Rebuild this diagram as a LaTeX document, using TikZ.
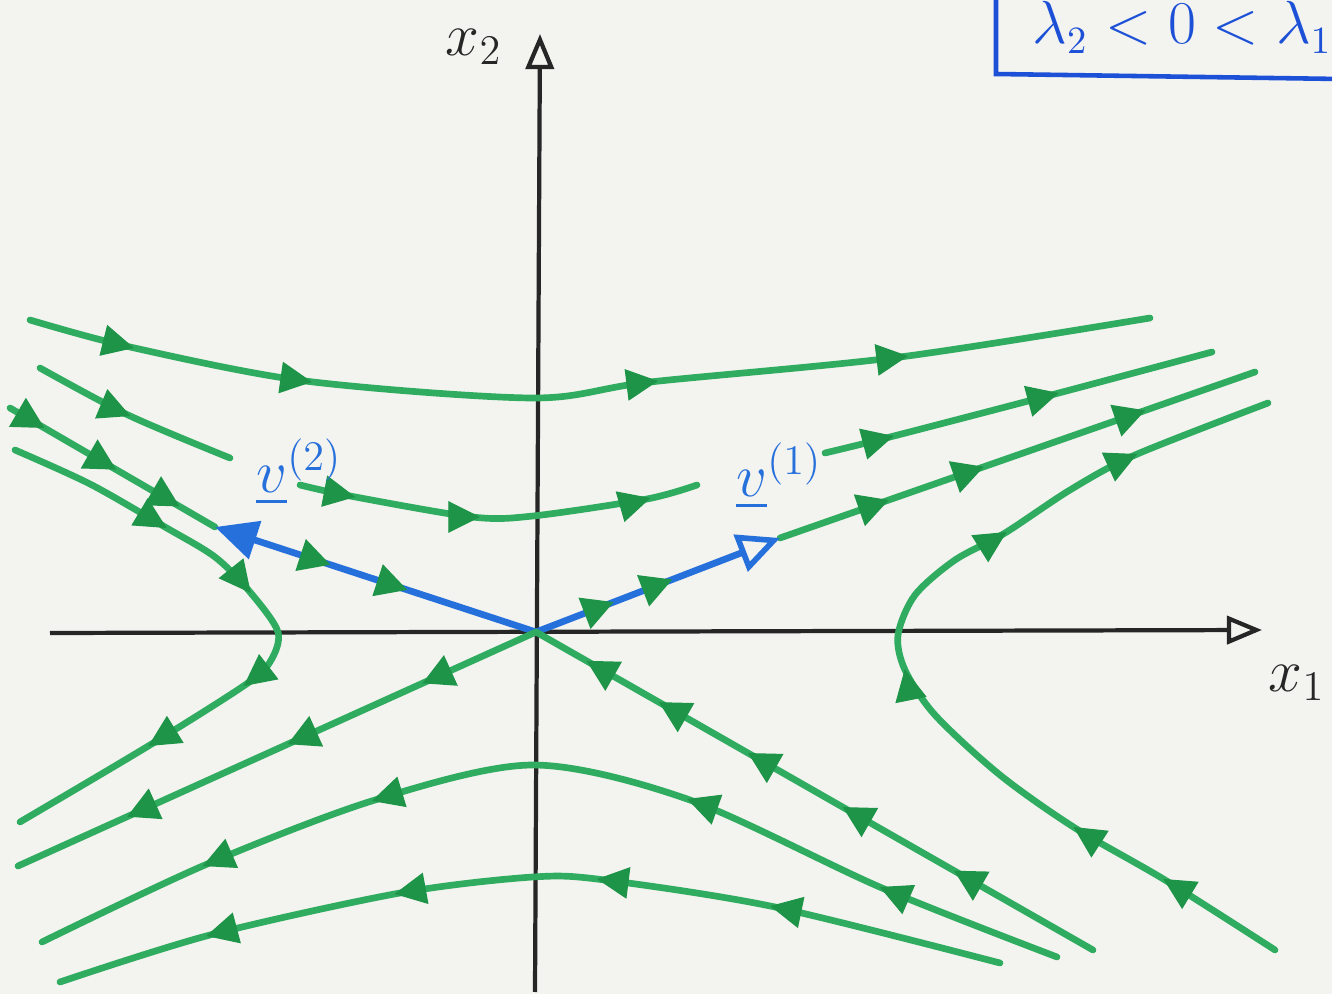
\documentclass[tikz,border=0pt]{standalone}
\usepackage{amsmath,amssymb}
\usepackage{tikz}
\usetikzlibrary{arrows.meta,decorations.markings}
\definecolor{paper}{RGB}{243,243,239}
\definecolor{flowgreen}{RGB}{48,172,96}
\definecolor{tipgreen}{RGB}{30,148,72}
\definecolor{vecblue}{RGB}{38,112,220}
\definecolor{boxblue}{RGB}{28,80,214}

\begin{document}
\begin{tikzpicture}[x=0.01cm,y=-0.01cm,
			axis/.style={line width=1.2pt,black!85,-{Triangle[open,length=10pt,width=8pt,line width=1.2pt]}},
			traj/.style={line width=1.9pt,flowgreen,line cap=round},
			eig/.style={line width=1.9pt,vecblue,line cap=round},
			fw/.style={postaction={decorate,decoration={markings,mark=at position #1 with {\arrow{Triangle[length=9pt,width=9pt,color=tipgreen]}}}}},
			bw/.style={postaction={decorate,decoration={markings,mark=at position #1 with {\arrowreversed{Triangle[length=9pt,width=9pt,color=tipgreen]}}}}},
			tip/.style={tipgreen,line width=0.3pt,-{Triangle[length=9pt,width=9pt]}},
			lab/.style={font=\fontsize{17}{20}\selectfont,text=black!85},
			vlab/.style={font=\fontsize{17}{20}\selectfont,text=vecblue,anchor=base west}
			]
			\useasboundingbox (0,0) rectangle (1332,994);
			\clip (0,0) rectangle (1332,994);
			\fill[paper] (0,0) rectangle (1332,994);
			\coordinate (O) at (536,632);
			\coordinate (v1) at (780,538);
			\coordinate (v2) at (215,527);
			% axes
			\draw[axis] (50,633) -- (1262,630);
			\draw[axis] (535,992) -- (540,34);
			\node[lab] (x1lab) at (1297,683) {$x_1$};
			\node[lab] (x2lab) at (474,47) {$x_2$};
			% trajectories above
			\draw[traj] plot[smooth] coordinates {(30,320) (130,347) (305,381) (533,398) (650,382) (900,357) (1150,318)};
			\draw[tip] (130,347) -- ++(4,1);
			\draw[tip] (305,381) -- ++(7,1);
			\draw[tip] (650,382) -- ++(8,-1);
			\draw[tip] (900,357) -- ++(8,-1);
			\draw[traj] plot[smooth] coordinates {(40,368) (128,415) (230,458)};
			\draw[tip] (128,415) -- ++(2.4,1);
			\draw[traj] plot[smooth] coordinates {(300,485) (350,496) (472,517) (533,516) (647,499) (697,485)};
			\draw[tip] (350,496) -- ++(5.3,1);
			\draw[tip] (472,517) -- ++(8,0);
			\draw[tip] (647,499) -- ++(3.5,-1);
			\draw[traj] plot[smooth] coordinates {(825,453) (890,437) (1055,394) (1212,352)};
			\draw[tip] (890,437) -- ++(3.8,-1);
			\draw[tip] (1055,394) -- ++(3.7,-1);
			% eigenvector directions
			\draw[traj,fw=0.17,fw=0.52,fw=0.83] (10,408) -- (v2);
			\draw[traj,fw=0.23,fw=0.43,fw=0.77] (v1) -- (1255,372);
			\draw[eig,-{Triangle[length=12pt,width=11pt]},bw=0.40,bw=0.64] (O) -- (v2);
			\draw[eig,-{Triangle[open,length=12pt,width=11pt,line width=1.6pt]},fw=0.32,fw=0.56] (O) -- (v1);
			\draw[traj,fw=0.22,fw=0.48,fw=0.79] (O) -- (18,866);
			\draw[traj,fw=0.25,fw=0.45,fw=0.62,fw=0.78,fw=0.91] (1093,950) -- (O);
			% hyperbolas left and right
			\draw[traj] plot[smooth] coordinates {(15,450) (90,484) (165,527) (215,557) (250,592) (278,632) (270,662) (245,685) (150,745) (20,822)};
			\draw[tip] (165,527) -- ++(1.67,1);
			\draw[tip] (250,592) -- ++(0.8,1);
			\draw[tip] (245,685) -- ++(-1.3,1);
			\draw[tip] (150,745) -- ++(-1.62,1);
			\draw[traj] plot[smooth] coordinates {(1275,950) (1165,880) (1075,828) (1000,775) (935,715) (905,670) (898,635) (915,595) (955,560) (1005,533) (1070,490) (1135,455) (1268,403)};
			\draw[tip] (1165,880) -- ++(-1.65,-1);
			\draw[tip] (1075,828) -- ++(-1.55,-1);
			\draw[tip] (905,670) -- ++(-0.2,-1);
			\draw[tip] (1005,533) -- ++(1.6,-1);
			\draw[tip] (1135,455) -- ++(2.2,-1);
			% trajectories below
			\draw[traj] plot[smooth] coordinates {(1057,957) (882,888) (690,800) (533,765) (375,800) (205,865) (42,942)};
			\draw[tip] (882,888) -- ++(-2.3,-1);
			\draw[tip] (690,800) -- ++(-2.8,-1);
			\draw[tip] (375,800) -- ++(-3.3,1);
			\draw[tip] (205,865) -- ++(-2.3,1);
			\draw[traj] plot[smooth] coordinates {(1000,963) (775,907) (605,880) (533,877) (400,893) (210,935) (60,982)};
			\draw[tip] (775,907) -- ++(-4.8,-1);
			\draw[tip] (605,880) -- ++(-8,-1);
			\draw[tip] (400,893) -- ++(-5.5,1);
			\draw[tip] (210,935) -- ++(-3.8,1);
			% labels
			\node[vlab] (v2lab) at (244,493) {$\underline{v}^{(2)}$};
			\node[vlab] (v1lab) at (724,497) {$\underline{v}^{(1)}$};
			\draw[boxblue,line width=1.3pt] (996,-10) -- (996,74) -- (1340,79);
			\node[font=\fontsize{16}{19}\selectfont,text=boxblue,anchor=base west] (eigtxt) at (1020,44) {$\lambda_2<0<\lambda_1$};
		\end{tikzpicture}
\end{document}
